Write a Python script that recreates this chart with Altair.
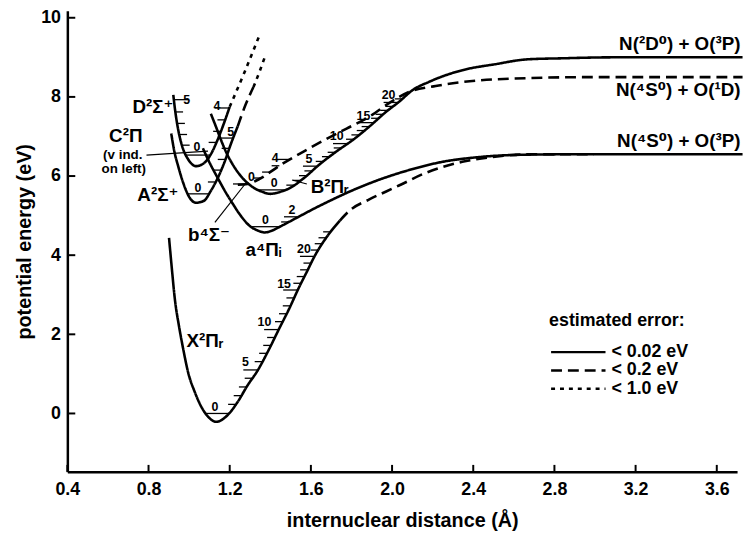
import altair as alt
import pandas as pd
import numpy as np

FONT = "Liberation Sans, Arial, DejaVu Sans"
ERR = ["< 0.02 eV", "< 0.2 eV", "< 1.0 eV"]

# ---------------- potential curves (r in Å, E in eV) ----------------
X_r = [0.901, 0.914, 0.930, 0.950, 0.971, 0.995, 1.028, 1.060, 1.093, 1.133, 1.190, 1.239,
       1.288, 1.337, 1.394, 1.442, 1.491, 1.540, 1.580, 1.621, 1.678, 1.743]
X_E = [4.44, 3.71, 2.875, 2.21, 1.625, 1.04, 0.54, 0.17, -0.08, -0.21, -0.04, 0.29,
       0.71, 1.08, 1.625, 2.125, 2.625, 3.17, 3.58, 4.0, 4.46, 4.875]
Xd_r = [1.743, 1.790, 1.888, 1.971, 2.034, 2.166, 2.346, 2.507, 2.702, 2.995]
Xd_E = [4.875, 5.125, 5.41, 5.61, 5.76, 6.08, 6.36, 6.49, 6.55, 6.55]

a_r = [1.068, 1.102, 1.141, 1.176, 1.215, 1.254, 1.302, 1.337, 1.371, 1.410, 1.449, 1.532,
       1.615, 1.712, 1.810, 1.922, 2.083, 2.249, 2.410, 2.654, 2.900, 3.727]
a_E = [6.70, 6.325, 5.95, 5.625, 5.30, 5.00, 4.725, 4.625, 4.575, 4.625, 4.725, 4.95,
       5.175, 5.42, 5.65, 5.88, 6.15, 6.36, 6.47, 6.54, 6.55, 6.55]

B_r = [1.107, 1.132, 1.156, 1.185, 1.220, 1.263, 1.312, 1.361, 1.400, 1.449, 1.498, 1.566,
       1.644, 1.727, 1.810, 1.888, 1.971, 2.034, 2.102, 2.180, 2.346, 2.507, 2.668, 2.834,
       3.093, 3.727]
B_E = [7.575, 7.25, 6.925, 6.575, 6.25, 5.95, 5.725, 5.60, 5.55, 5.60, 5.70, 5.95,
       6.30, 6.625, 6.925, 7.25, 7.625, 7.875, 8.175, 8.375, 8.675, 8.825, 8.95, 8.975,
       9.0, 9.0]

b_r = [1.240, 1.288, 1.346, 1.449, 1.566, 1.663, 1.776, 1.888, 1.995, 2.083, 2.215, 2.346,
       2.668, 2.995, 3.727]
b_E = [5.78, 5.80, 5.925, 6.275, 6.625, 6.90, 7.20, 7.50, 7.875, 8.125, 8.275, 8.375,
       8.475, 8.50, 8.50]

A_r = [0.912, 0.927, 0.946, 0.971, 1.000, 1.034, 1.073, 1.107, 1.141, 1.176, 1.205, 1.239]
A_E = [7.075, 6.625, 6.25, 5.825, 5.475, 5.325, 5.375, 5.625, 5.95, 6.375, 6.80, 7.25]
Ad_r = [1.239, 1.278, 1.317]
Ad_E = [7.25, 7.80, 8.25]
Ao_r = [1.317, 1.346, 1.376]
Ao_E = [8.25, 8.625, 9.05]

CD_r = [0.922, 0.932, 0.946, 0.966, 0.995, 1.034, 1.073, 1.107, 1.141, 1.171, 1.200]
CD_E = [8.05, 7.625, 7.175, 6.75, 6.425, 6.25, 6.325, 6.55, 6.925, 7.325, 7.75]
CDo_r = [1.200, 1.273, 1.346]
CDo_E = [7.75, 8.625, 9.55]

# ---------------- vibrational levels (eV) ----------------
X_v0 = 0.0
X_lv = [0.23, 0.45, 0.67, 0.89, 1.10, 1.31, 1.52, 1.72, 1.92, 2.12, 2.32, 2.52, 2.72, 2.92,
        3.12, 3.29, 3.46, 3.63, 3.80, 3.97, 4.13, 4.29, 4.44, 4.59]
a_v0 = 4.72
a_lv = [4.84, 4.97]
B_v0 = 5.65
B_lv = [5.77, 5.89, 6.01, 6.13, 6.25, 6.37, 6.49, 6.60, 6.71, 6.82, 6.93, 7.04, 7.15, 7.25,
        7.35, 7.46, 7.56, 7.66, 7.76, 7.86, 7.95]
b_v0 = 5.80
b_lv = [5.95, 6.10, 6.26, 6.42]
A_v0 = 5.55
A_lv = [5.85, 6.15, 6.42, 6.70, 6.96]
CD_v0 = 6.53
C_lv = [6.78, 7.05, 7.33, 7.62, 7.93]
D_lv = [6.85, 7.13, 7.42, 7.72]

vib_text = ["0", "5", "10", "15", "20", "0", "2", "0", "5", "10", "15", "20",
            "0", "4", "0", "5", "0", "5", "4"]
vib_r = [1.127, 1.278, 1.371, 1.468, 1.566, 1.376, 1.507, 1.419, 1.590, 1.727, 1.859, 1.983,
         1.307, 1.424, 1.044, 1.205, 1.039, 0.988, 1.137]
vib_E = [0.17, 1.30, 2.30, 3.27, 4.15, 4.88, 5.13, 5.83, 6.42, 7.00, 7.52, 8.05,
         5.98, 6.45, 5.70, 7.10, 6.73, 7.93, 7.78]

state_text = ["D²Σ⁺", "C²Π", "A²Σ⁺", "b⁴Σ⁻", "a⁴Πᵢ", "B²Πᵣ", "X²Πᵣ"]
state_r = [0.822, 0.688, 0.846, 1.098, 1.366, 1.693, 1.078]
state_E = [7.75, 7.00, 5.53, 4.50, 4.12, 5.72, 1.83]

note_text = ["(v ind.", "on left)"]
note_r = [0.673, 0.678]
note_E = [6.53, 6.17]

asym_text = ["N(²D⁰) + O(³P)", "N(⁴S⁰) + O(¹D)", "N(⁴S⁰) + O(³P)"]
asym_r = [3.717, 3.717, 3.717]
asym_E = [9.33, 8.18, 6.88]

ptr_r = [0.790, 1.127, 1.507]
ptr_E = [6.53, 4.83, 5.90]
ptr_r2 = [1.093, 1.273, 1.580]
ptr_E2 = [6.63, 5.78, 5.80]

x_ticks = [0.4, 0.8, 1.2, 1.6, 2.0, 2.4, 2.8, 3.2, 3.6]
y_ticks = [0, 2, 4, 6, 8, 10]

# ---------------- build tables ----------------
segments = [
    ("X", ERR[0], X_r, X_E), ("Xd", ERR[1], Xd_r, Xd_E),
    ("a", ERR[0], a_r, a_E), ("B", ERR[0], B_r, B_E), ("b", ERR[1], b_r, b_E),
    ("A", ERR[0], A_r, A_E), ("Ad", ERR[1], Ad_r, Ad_E), ("Ao", ERR[2], Ao_r, Ao_E),
    ("CD", ERR[0], CD_r, CD_E), ("CDo", ERR[2], CDo_r, CDo_E),
]
rows = []
for name, err, rr, ee in segments:
    for i, (r, e) in enumerate(zip(rr, ee)):
        rows.append({"seg": name, "err": err, "r": r, "E": e, "i": i})
curves = pd.DataFrame(rows)


def right_x(rr, ee, e):
    k = int(np.argmin(ee))
    return float(np.interp(e, ee[k:], rr[k:]))


def left_x(rr, ee, e):
    k = int(np.argmin(ee))
    return float(np.interp(e, ee[:k + 1][::-1], rr[:k + 1][::-1]))


SHORT, LONG = 0.038, 0.072
trow = []


def full(rr, ee, e):
    trow.append({"r": left_x(rr, ee, e), "r2": right_x(rr, ee, e), "E": e})


def rticks(rr, ee, lv, every, start=1):
    for k, e in enumerate(lv, start=start):
        L = LONG if (every and k % every == 0) else SHORT
        xr_ = right_x(rr, ee, e)
        trow.append({"r": xr_ - L, "r2": xr_, "E": e})


def lticks(rr, ee, lv, every):
    for k, e in enumerate(lv, start=1):
        L = LONG if (every and k % every == 0) else SHORT
        xl_ = left_x(rr, ee, e)
        trow.append({"r": xl_, "r2": xl_ + L, "E": e})


full(X_r, X_E, X_v0); rticks(X_r, X_E, X_lv, 5)
full(a_r, a_E, a_v0); rticks(a_r, a_E, a_lv, 2)
full(B_r, B_E, B_v0); rticks(B_r, B_E, B_lv, 5)
rticks(b_r, b_E, [b_v0], 1, start=0); rticks(b_r, b_E, b_lv, 4)
full(A_r, A_E, A_v0); rticks(A_r, A_E, A_lv, 5)
full(CD_r, CD_E, CD_v0); lticks(CD_r, CD_E, C_lv, 5); rticks(CD_r, CD_E, D_lv, 4)
ticks = pd.DataFrame(trow)

vib = pd.DataFrame({"r": vib_r, "E": vib_E, "t": vib_text})
states = pd.DataFrame({"r": state_r, "E": state_E, "t": state_text})
notes = pd.DataFrame({"r": note_r, "E": note_E, "t": note_text})
asym = pd.DataFrame({"r": asym_r, "E": asym_E, "t": asym_text})
ptrs = pd.DataFrame({"r": ptr_r, "E": ptr_E, "r2": ptr_r2, "E2": ptr_E2})
xt = pd.DataFrame({"r": x_ticks})
yt = pd.DataFrame({"E": y_ticks})
leg = pd.DataFrame({"err": ERR, "k": [0, 1, 2]})

# ---------------- encodings ----------------
W, H = 677, 466
xs = alt.Scale(domain=[0.4, 3.7], nice=False, zero=False)
ys = alt.Scale(domain=[-1.475, 10.175], nice=False, zero=False)
xaxis = alt.Axis(values=x_ticks, format=".1f", title="internuclear distance (Å)", ticks=False,
                 labelFlush=False, labelOverlap=False, labelPadding=9, titlePadding=12)
yaxis = alt.Axis(values=y_ticks, format="d", title="potential energy (eV)", ticks=False,
                 labelPadding=7, titlePadding=6)
X = alt.X("r:Q", scale=xs, axis=xaxis)
Y = alt.Y("E:Q", scale=ys, axis=yaxis)
dash_scale = alt.Scale(domain=ERR, range=[[1, 0], [11, 6], [4, 5]])

lines = alt.Chart(curves).mark_line(color="black", strokeWidth=2.6, interpolate="monotone").encode(
    x=X, y=Y, detail="seg:N", order="i:Q",
    strokeDash=alt.StrokeDash("err:N", scale=dash_scale, legend=None),
)

vticks = alt.Chart(ticks).mark_rule(color="black", strokeWidth=1.3).encode(
    x=X, x2="r2:Q", y=Y)

vlabels = alt.Chart(vib).mark_text(font=FONT, fontSize=12.5, fontWeight="bold", color="black",
                                   baseline="middle").encode(x=X, y=Y, text="t:N")

slabels = alt.Chart(states).mark_text(font=FONT, fontSize=19, fontWeight="bold", color="black",
                                      baseline="middle").encode(x=X, y=Y, text="t:N")

nlabels = alt.Chart(notes).mark_text(font=FONT, fontSize=13.5, fontWeight="bold", color="black",
                                     baseline="middle").encode(x=X, y=Y, text="t:N")

alabels = alt.Chart(asym).mark_text(font=FONT, fontSize=19, fontWeight="bold", color="black",
                                    baseline="middle", align="right").encode(x=X, y=Y, text="t:N")

pointers = alt.Chart(ptrs).mark_rule(color="black", strokeWidth=1.2).encode(
    x=X, y=Y, x2="r2:Q", y2="E2:Q")

xtick_marks = alt.Chart(xt).mark_rule(color="black", strokeWidth=2).encode(
    x=X, y=alt.value(H), y2=alt.value(H - 7))
ytick_marks = alt.Chart(yt).mark_rule(color="black", strokeWidth=2).encode(
    y=Y, x=alt.value(0), x2=alt.value(8))

# manual legend ("estimated error:")
LX, LY, ROW = 489, 345, 18.5
leg_title = alt.Chart(pd.DataFrame({"t": ["estimated error:"]})).mark_text(
    font=FONT, fontSize=18, fontWeight="bold", color="black", align="left", baseline="middle"
).encode(x=alt.value(LX - 2), y=alt.value(LY - 31), text="t:N")
leg_lines = alt.Chart(leg).mark_rule(color="black", strokeWidth=2.5).encode(
    x=alt.value(LX), x2=alt.value(LX + 55),
    y=alt.Y("k:Q", scale=alt.Scale(domain=[0, 2], range=[LY, LY + 2 * ROW]), axis=None),
    strokeDash=alt.StrokeDash("err:N", scale=dash_scale, legend=None),
)
leg_text = alt.Chart(leg).mark_text(
    font=FONT, fontSize=18, fontWeight="bold", color="black", align="left", baseline="middle"
).encode(
    x=alt.value(LX + 61),
    y=alt.Y("k:Q", scale=alt.Scale(domain=[0, 2], range=[LY, LY + 2 * ROW]), axis=None),
    text="err:N",
)
legend = alt.layer(leg_lines, leg_text).resolve_scale(y="independent")

chart = alt.layer(
    lines, vticks, pointers, vlabels, slabels, nlabels, alabels, xtick_marks, ytick_marks,
).properties(width=W, height=H)

full_chart = alt.layer(chart, leg_title, legend).resolve_scale(y="independent").properties(
    width=W, height=H,
    autosize=alt.AutoSizeParams(type="none"),
    padding={"left": 60, "top": 0, "right": 7, "bottom": 62},
).configure_view(stroke=None).configure_axis(
    grid=False, domainColor="black", domainWidth=2.5,
    labelFont=FONT, labelFontSize=18, labelFontWeight="bold", labelColor="black",
    titleFont=FONT, titleFontSize=20, titleFontWeight="bold", titleColor="black",
)

full_chart.save("out.html", embed_options={"renderer": "svg", "actions": False})
